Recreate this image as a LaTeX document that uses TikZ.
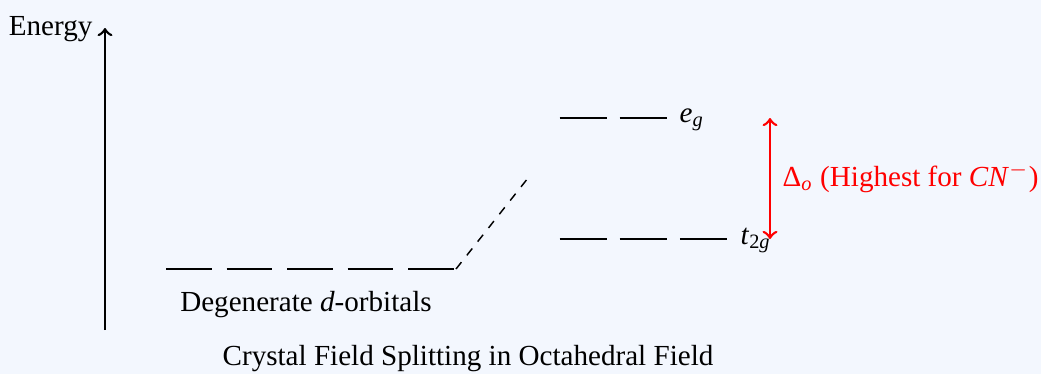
\documentclass[tikz,border=0pt]{standalone}
\usepackage{fontspec}
\setmainfont{Liberation Serif}
\definecolor{bgblue}{RGB}{243,247,254}
\tikzset{
  orb/.style={line width=1pt, black},
  lbl/.style={inner sep=0pt, font=\fontsize{10}{12}\selectfont},
  axis/.style={line width=0.9pt, ->},
  gap/.style={line width=0.9pt, red, <->},
}
\begin{document}
\begin{tikzpicture}[x=0.3436pt, y=-0.3436pt]
\useasboundingbox[fill=bgblue] (0,0) rectangle (1041,374);
% energy axis
\coordinate (axb) at (105,330);
\coordinate (axt) at (105,28);
\draw[axis] (axb) -- (axt);
\node[lbl, anchor=base east] (energy) at (93,35) {Energy};
% degenerate orbitals
\foreach \i in {0,...,4} {
  \draw[orb] ({166+60.5*\i},269) -- ({211.5+60.5*\i},269);
}
\coordinate (degend) at (456,269);
\node[lbl, anchor=base] (deglbl) at (306,311) {Degenerate \textit{d}-orbitals};
% dashed connector
\coordinate (bary) at (528,178);
\draw[dashed, line width=0.5pt] (degend) -- (bary);
% t2g
\foreach \i in {0,...,2} {
  \draw[orb] ({559.5+60.2*\i},239) -- ({606.5+60.2*\i},239);
}
\node[lbl, anchor=base west] (t2g) at (740,244) {\textit{t}\textsubscript{2\textit{g}}};
% eg
\foreach \i in {0,1} {
  \draw[orb] ({559.5+60.2*\i},118) -- ({606.5+60.2*\i},118);
}
\node[lbl, anchor=base west] (eg) at (679,122) {\textit{e}\textsubscript{\textit{g}}};
% splitting arrow
\coordinate (dtop) at (770,118);
\coordinate (dbot) at (770,239);
\draw[gap] (dbot) -- (dtop);
\node[lbl, anchor=base west, text=red] (delta) at (782,186) {Δ\textsubscript{\textit{o}} (Highest for \textit{CN}\textsuperscript{$-$})};
% caption
\node[lbl, anchor=base] (caption) at (468,365) {Crystal Field Splitting in Octahedral Field};
\end{tikzpicture}
\end{document}
